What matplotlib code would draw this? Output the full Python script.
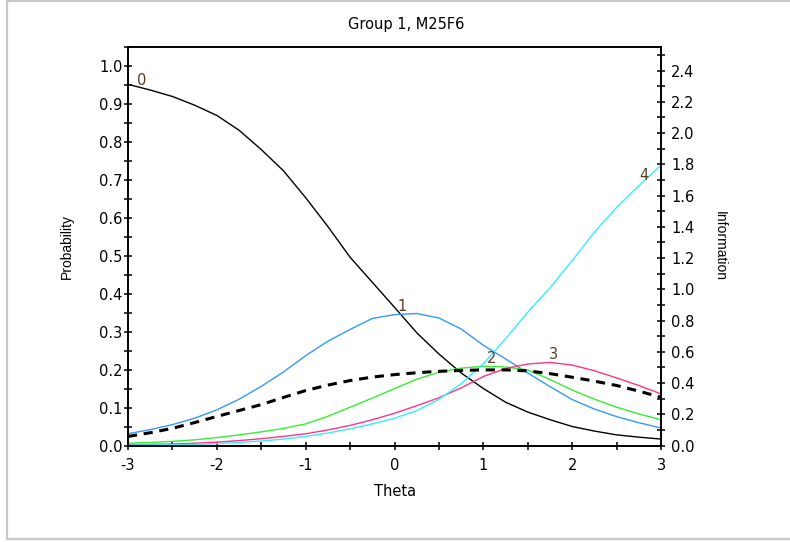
import numpy as np
import matplotlib
matplotlib.use("Agg")
import matplotlib.pyplot as plt
from matplotlib.lines import Line2D
from matplotlib.ticker import MultipleLocator, FormatStrFormatter

plt.rcParams['font.family'] = ['DejaVu Sans']
plt.rcParams['axes.unicode_minus'] = False

# theta grid and category response curves
theta = [-3, -2.75, -2.5, -2.25, -2, -1.75, -1.5, -1.25, -1, -0.75, -0.5, -0.25, 0,
         0.25, 0.5, 0.75, 1, 1.25, 1.5, 1.75, 2, 2.25, 2.5, 2.75, 3]
p0 = [0.952, 0.937, 0.920, 0.897, 0.870, 0.831, 0.780, 0.724, 0.653, 0.577, 0.496, 0.430, 0.364,
      0.297, 0.241, 0.191, 0.150, 0.114, 0.088, 0.068, 0.050, 0.038, 0.028, 0.022, 0.017]
p1 = [0.031, 0.042, 0.055, 0.072, 0.094, 0.122, 0.156, 0.194, 0.237, 0.275, 0.306, 0.335, 0.345,
      0.348, 0.336, 0.307, 0.264, 0.228, 0.191, 0.155, 0.121, 0.096, 0.076, 0.060, 0.046]
p2 = [0.006, 0.008, 0.011, 0.015, 0.021, 0.028, 0.036, 0.045, 0.057, 0.077, 0.101, 0.125, 0.150,
      0.175, 0.193, 0.204, 0.209, 0.207, 0.199, 0.174, 0.146, 0.122, 0.101, 0.083, 0.068]
p3 = [0.002, 0.003, 0.004, 0.006, 0.009, 0.013, 0.018, 0.024, 0.031, 0.041, 0.053, 0.068, 0.085,
      0.105, 0.126, 0.152, 0.182, 0.203, 0.215, 0.219, 0.212, 0.197, 0.178, 0.158, 0.136]
p4 = [0.001, 0.0015, 0.002, 0.003, 0.005, 0.008, 0.012, 0.017, 0.024, 0.033, 0.044, 0.057, 0.072,
      0.092, 0.122, 0.163, 0.216, 0.282, 0.352, 0.416, 0.488, 0.563, 0.628, 0.685, 0.739]
info = [0.058, 0.082, 0.110, 0.147, 0.186, 0.224, 0.262, 0.308, 0.352, 0.387, 0.416, 0.438, 0.454,
        0.466, 0.475, 0.481, 0.484, 0.484, 0.478, 0.460, 0.437, 0.412, 0.384, 0.348, 0.308]

curves = [p0, p1, p2, p3, p4]
colors = ['#000000', '#3399ff', '#33ee33', '#ff3388', '#33eeff']
# where the category numbers sit
lab_x = [-2.85, 0.08, 1.09, 1.79, 2.80]
lab_y = [0.962, 0.366, 0.230, 0.239, 0.712]
lab_txt = ['0', '1', '2', '3', '4']

fig = plt.figure(figsize=(7.9, 5.42), dpi=100)
fig.patch.set_facecolor('white')

ax = fig.add_axes([0.162, 0.178, 0.675, 0.735])
ax2 = ax.twinx()

for c, col in zip(curves, colors):
    ax.plot(theta, c, color=col, lw=1.0, zorder=3)
for t, x, y in zip(lab_txt, lab_x, lab_y):
    ax.text(x, y, t, fontsize=10.5, color='#5a3e22', ha='center', va='center', zorder=4)

ax2.plot(theta, info, color='black', lw=2.2, linestyle=(0, (3, 2.2)), zorder=3)

ax.set_xlim(-3, 3)
ax.set_ylim(0, 1.05)
ax2.set_ylim(0, 2.55)

ax.xaxis.set_major_locator(MultipleLocator(1))
ax.xaxis.set_minor_locator(MultipleLocator(0.5))
ax.yaxis.set_major_locator(MultipleLocator(0.1))
ax.yaxis.set_minor_locator(MultipleLocator(0.05))
ax.yaxis.set_major_formatter(FormatStrFormatter('%.1f'))
ax2.yaxis.set_major_locator(MultipleLocator(0.2))
ax2.yaxis.set_minor_locator(MultipleLocator(0.1))
ax2.yaxis.set_major_formatter(FormatStrFormatter('%.1f'))

for a in (ax, ax2):
    for s in a.spines.values():
        s.set_linewidth(1.2)
ax.tick_params(axis='both', which='both', direction='inout', length=6, width=1.1,
               labelsize=10.5, top=False, right=False)
ax.tick_params(axis='y', pad=1)
ax.tick_params(axis='x', pad=6)
ax2.tick_params(axis='y', which='both', direction='inout', length=6, width=1.1,
                labelsize=10.5, pad=4)

ax.set_xlabel('Theta', fontsize=10.5, labelpad=8)
fig.text(67 / 790, 1 - 246 / 542, 'Probability', rotation=90, fontsize=10,
         family='Liberation Sans', ha='center', va='center')
fig.text(720 / 790, 1 - 246 / 542, 'Information', rotation=-90, fontsize=10,
         family='Liberation Sans', ha='center', va='center')
fig.text(406 / 790, 1 - 25 / 542, 'Group 1, M25F6', fontsize=10.5,
         ha='center', va='center')

# light grey frame round the picture
grey = '#c8c8c8'
fig.add_artist(Line2D([7 / 790, 7 / 790], [1 - 2 / 542, 1 - 539 / 542], color=grey, lw=1.6,
                      transform=fig.transFigure))
fig.add_artist(Line2D([7 / 790, 1], [1 - 1 / 542, 1 - 1 / 542], color=grey, lw=1.6,
                      transform=fig.transFigure))
fig.add_artist(Line2D([7 / 790, 1], [1 - 539 / 542, 1 - 539 / 542], color=grey, lw=1.6,
                      transform=fig.transFigure))

fig.savefig('out.png', dpi=100)
